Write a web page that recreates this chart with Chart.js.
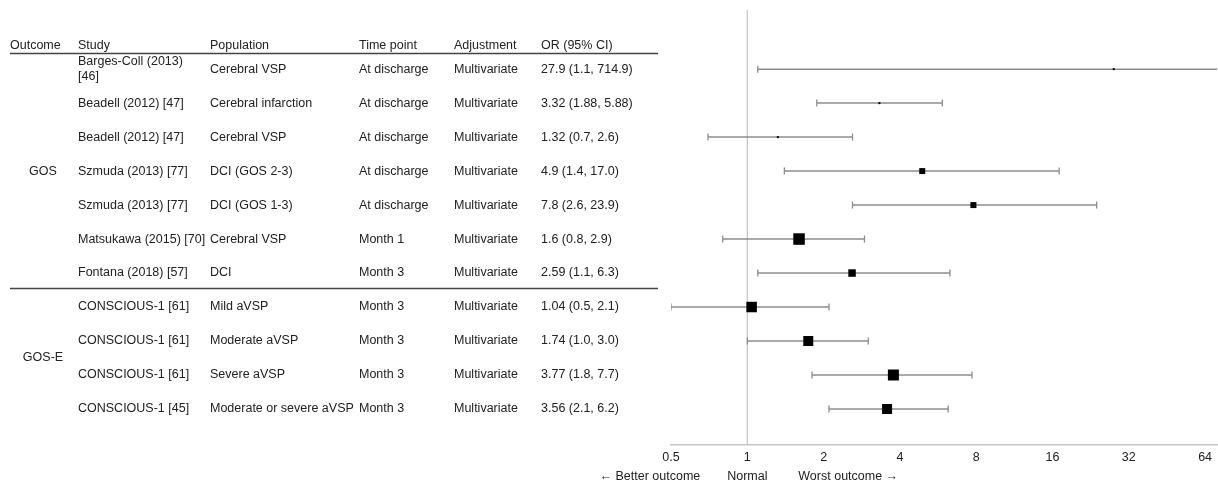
<!DOCTYPE html>
<html lang="en">
<head>
<meta charset="UTF-8">
<title>Forest plot - GOS / GOS-E outcomes</title>
<script src="https://cdn.jsdelivr.net/npm/chart.js"></script>
<style>
  html, body { margin: 0; padding: 0; background: #fff; overflow: hidden; }
  canvas { display: block; }
</style>
</head>
<body>
<canvas id="forest" width="1218" height="484"></canvas>
<script>
// ---- data ----
const headers = ['Outcome', 'Study', 'Population', 'Time point', 'Adjustment', 'OR (95% CI)'];
const outcomeGroups = ['GOS', 'GOS-E'];
const groupRows = [[0, 6], [7, 10]];
const studies = [
  'Barges-Coll (2013)\n[46]', 'Beadell (2012) [47]', 'Beadell (2012) [47]', 'Szmuda (2013) [77]',
  'Szmuda (2013) [77]', 'Matsukawa (2015) [70]', 'Fontana (2018) [57]',
  'CONSCIOUS-1 [61]', 'CONSCIOUS-1 [61]', 'CONSCIOUS-1 [61]', 'CONSCIOUS-1 [45]'
];
const populations = [
  'Cerebral VSP', 'Cerebral infarction', 'Cerebral VSP', 'DCI (GOS 2-3)', 'DCI (GOS 1-3)',
  'Cerebral VSP', 'DCI', 'Mild aVSP', 'Moderate aVSP', 'Severe aVSP', 'Moderate or severe aVSP'
];
const timePoints = [
  'At discharge', 'At discharge', 'At discharge', 'At discharge', 'At discharge',
  'Month 1', 'Month 3', 'Month 3', 'Month 3', 'Month 3', 'Month 3'
];
const adjustments = Array(11).fill('Multivariate');
const orLabels = [
  '27.9 (1.1, 714.9)', '3.32 (1.88, 5.88)', '1.32 (0.7, 2.6)', '4.9 (1.4, 17.0)', '7.8 (2.6, 23.9)',
  '1.6 (0.8, 2.9)', '2.59 (1.1, 6.3)', '1.04 (0.5, 2.1)', '1.74 (1.0, 3.0)', '3.77 (1.8, 7.7)', '3.56 (2.1, 6.2)'
];
const oddsRatios = [27.9, 3.32, 1.32, 4.9, 7.8, 1.6, 2.59, 1.04, 1.74, 3.77, 3.56];
const ciLower    = [1.1, 1.88, 0.7, 1.4, 2.6, 0.8, 1.1, 0.5, 1.0, 1.8, 2.1];
const ciUpper    = [714.9, 5.88, 2.6, 17.0, 23.9, 2.9, 6.3, 2.1, 3.0, 7.7, 6.2];
const xTicks = [0.5, 1, 2, 4, 8, 16, 32, 64];

// ---- styling ----
const FONT = '"Liberation Sans", Arial, sans-serif';
const TEXT = '#222';
const markerSide = [2, 2, 2, 6, 6, 11.5, 7.5, 10.5, 10, 11, 10];
const colX = [10, 78, 210, 359, 454, 541];
const Y_MIN = -1.74, Y_MAX = 11.06;

const estimates = {
  data: oddsRatios.map((v, i) => ({ x: v, y: i })),
  pointStyle: 'rect',
  pointRadius: markerSide.map(s => s / Math.SQRT2),
  backgroundColor: '#000',
  borderWidth: 0,
  order: 0
};

const whiskers = studies.map((_, i) => ({
  data: [{ x: ciLower[i], y: i }, { x: ciUpper[i], y: i }],
  showLine: true,
  borderColor: '#8c8c8c',
  borderWidth: 1.5,
  pointStyle: 'line',
  rotation: 90,
  pointRadius: 3.5,
  pointBorderColor: '#8c8c8c',
  pointBorderWidth: 1.3,
  order: 1
}));

const refLine = {
  data: [{ x: 1, y: Y_MIN }, { x: 1, y: Y_MAX }],
  showLine: true,
  borderColor: '#c4c4c4',
  borderWidth: 1.2,
  pointRadius: 0,
  order: 2
};

// table text on the left + captions under the axis
const tablePlugin = {
  id: 'forestTable',
  afterDraw(chart) {
    const { ctx } = chart;
    const ys = chart.scales.y, xs = chart.scales.x;
    ctx.save();
    ctx.font = '12.5px ' + FONT;
    ctx.fillStyle = TEXT;
    ctx.textBaseline = 'middle';

    const hy = ys.getPixelForValue(-0.7);
    headers.forEach((h, k) => ctx.fillText(h, colX[k], hy));

    ctx.strokeStyle = '#444';
    ctx.lineWidth = 1.3;
    [-0.47, 6.44].forEach(v => {
      const ly = Math.round(ys.getPixelForValue(v)) + 0.5;
      ctx.beginPath();
      ctx.moveTo(10, ly);
      ctx.lineTo(658, ly);
      ctx.stroke();
    });

    ctx.textAlign = 'center';
    outcomeGroups.forEach((g, k) => {
      const mid = (groupRows[k][0] + groupRows[k][1]) / 2;
      ctx.fillText(g, 43, ys.getPixelForValue(mid));
    });

    ctx.textAlign = 'left';
    studies.forEach((s, i) => {
      const ry = ys.getPixelForValue(i);
      const lines = s.split('\n');
      lines.forEach((ln, j) => ctx.fillText(ln, colX[1], ry + (j - (lines.length - 1) / 2) * 15.5));
      ctx.fillText(populations[i], colX[2], ry);
      ctx.fillText(timePoints[i], colX[3], ry);
      ctx.fillText(adjustments[i], colX[4], ry);
      ctx.fillText(orLabels[i], colX[5], ry);
    });

    const p1 = xs.getPixelForValue(1);
    const cy = 477;
    ctx.textAlign = 'right';
    ctx.fillText('\u2190 Better outcome', p1 - 47, cy);
    ctx.textAlign = 'center';
    ctx.fillText('Normal', p1, cy);
    ctx.textAlign = 'left';
    ctx.fillText('Worst outcome \u2192', p1 + 51, cy);
    ctx.restore();
  }
};

new Chart(document.getElementById('forest'), {
  type: 'scatter',
  data: { datasets: [estimates, ...whiskers, refLine] },
  options: {
    responsive: false,
    animation: false,
    events: [],
    layout: { autoPadding: false, padding: { left: 671, right: 1, top: 10, bottom: 14 } },
    plugins: { legend: { display: false }, tooltip: { enabled: false } },
    scales: {
      x: {
        type: 'logarithmic',
        min: 0.5,
        max: 71.3,
        afterBuildTicks: scale => { scale.ticks = xTicks.map(v => ({ value: v })); },
        afterFit: scale => { scale.paddingLeft = 0; scale.paddingRight = 0; },
        ticks: {
          callback: v => String(v),
          autoSkip: false,
          maxRotation: 0,
          padding: 5,
          color: TEXT,
          font: { family: FONT, size: 12.5 }
        },
        grid: { display: false, drawTicks: false },
        border: { color: '#c8c8c8', width: 1.5 }
      },
      y: { type: 'linear', reverse: true, min: Y_MIN, max: Y_MAX, display: false }
    }
  },
  plugins: [tablePlugin]
});
</script>
</body>
</html>
